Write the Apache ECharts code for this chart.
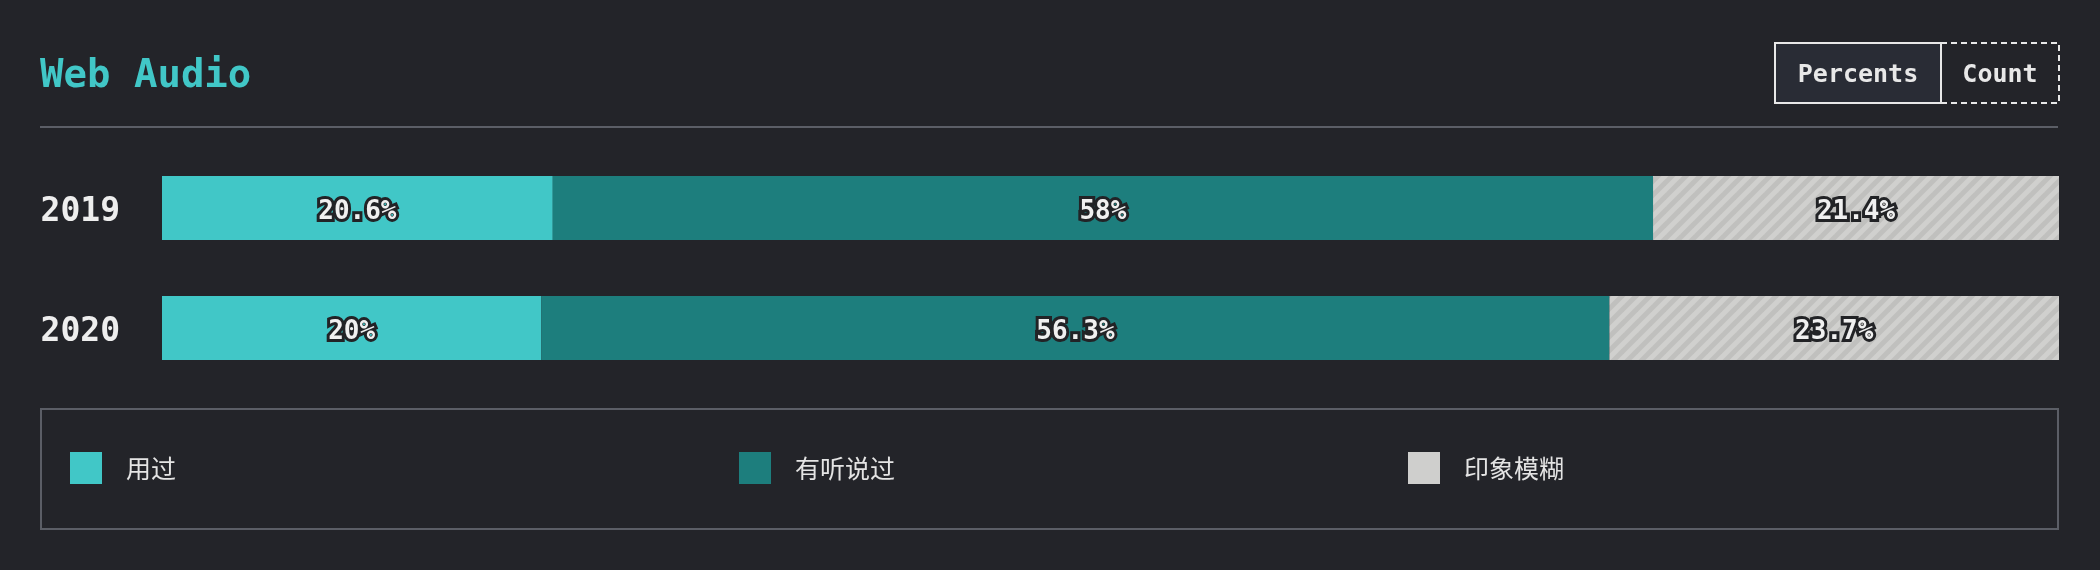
<!DOCTYPE html>
<html>
<head>
<meta charset="utf-8">
<title>Web Audio</title>
<script src="https://cdn.jsdelivr.net/npm/echarts@6/dist/echarts.min.js"></script>
<style>
	html, body { margin: 0; padding: 0; background: #232429; }
	#main { width: 2100px; height: 570px; }
</style>
</head>
<body>
<div id="main"></div>
<script>
// 数据
const years = ['2019', '2020'];
const seriesNames = ['用过', '有听说过', '印象模糊'];
const usedData = [20.6, 20];
const heardData = [58, 56.3];
const fuzzyData = [21.4, 23.7];

const monoFont = '"DejaVu Sans Mono", monospace';
const cjkFont = '"Noto Sans CJK SC", sans-serif';

// 斜条纹填充
function stripePattern(){
	let size = 14;
	let cvs = document.createElement('canvas');
	cvs.width = size;
	cvs.height = size;
	let ctx = cvs.getContext('2d');
	ctx.fillStyle = '#d0d0ce';
	ctx.fillRect(0, 0, size, size);
	ctx.strokeStyle = '#c0c0be';
	ctx.lineWidth = 5;
	for(let c = 0; c <= size * 2; c += size){
		ctx.beginPath();
		ctx.moveTo(-2, c + 2);
		ctx.lineTo(c + 2, -2);
		ctx.stroke();
	}
	return cvs;
}

let labelStyle = {
	show: true,
	position: 'inside',
	offset: [0, 4],
	formatter: function(p){ return p.value + '%'; },
	fontFamily: monoFont,
	fontWeight: 'bold',
	fontSize: 26,
	color: '#f0f0f0',
	textBorderColor: '#222326',
	textBorderWidth: 6
};

function makeLegend(name, left, color){
	return {
		left: left,
		top: 452,
		padding: 0,
		itemWidth: 32,
		itemHeight: 32,
		icon: 'rect',
		selectedMode: false,
		data: [{name: name, itemStyle: {color: color}}],
		textStyle: {
			fontFamily: cjkFont,
			fontSize: 25,
			color: '#e4e4e4',
			padding: [0, 0, 0, 19]
		}
	};
}

let myChart = echarts.init(document.getElementById('main'));
let option = {
	backgroundColor: '#232429',
	animation: false,
	grid: {left: 162, right: 41, top: 148, bottom: 182},
	xAxis: {type: 'value', min: 0, max: 100, show: false},
	yAxis: {
		type: 'category',
		data: years,
		inverse: true,
		axisLine: {show: false},
		axisTick: {show: false},
		axisLabel: {
			margin: 42,
			verticalAlign: 'top',
			lineHeight: 8,
			fontFamily: monoFont,
			fontWeight: 'bold',
			fontSize: 33,
			color: '#eeeeee'
		}
	},
	legend: [
		makeLegend(seriesNames[0], 70, '#41c7c7'),
		makeLegend(seriesNames[1], 739, '#1d7e7d'),
		makeLegend(seriesNames[2], 1408, '#cfcfcd')
	],
	graphic: [
		{type: 'text', left: 40, top: 57, style: {text: 'Web Audio', fontFamily: monoFont, fontWeight: 'bold', fontSize: 39, fill: '#41c7c7'}},
		{type: 'line', shape: {x1: 40, y1: 127, x2: 2058, y2: 127}, style: {stroke: '#5b5e66', lineWidth: 2}},
		{type: 'rect', shape: {x: 1775, y: 43, width: 166, height: 60}, style: {fill: '#292c35', stroke: '#e8e8e8', lineWidth: 2}},
		{type: 'rect', shape: {x: 1941, y: 43, width: 118, height: 60}, style: {fill: 'none', stroke: '#e8e8e8', lineWidth: 2, lineDash: [6, 4]}},
		{type: 'line', shape: {x1: 1941, y1: 43, x2: 1941, y2: 103}, style: {stroke: '#e8e8e8', lineWidth: 2}},
		{type: 'text', x: 1858, y: 75, style: {text: 'Percents', align: 'center', verticalAlign: 'middle', fontFamily: monoFont, fontWeight: 'bold', fontSize: 25, fill: '#e8e8e8'}},
		{type: 'text', x: 2000, y: 75, style: {text: 'Count', align: 'center', verticalAlign: 'middle', fontFamily: monoFont, fontWeight: 'bold', fontSize: 25, fill: '#e8e8e8'}},
		{type: 'rect', shape: {x: 41, y: 409, width: 2017, height: 120}, style: {fill: 'none', stroke: '#5b5e66', lineWidth: 2}}
	],
	series: [
		{name: seriesNames[0], type: 'bar', stack: 'total', barWidth: 64, data: usedData, itemStyle: {color: '#41c7c7'}, label: labelStyle},
		{name: seriesNames[1], type: 'bar', stack: 'total', barWidth: 64, data: heardData, itemStyle: {color: '#1d7e7d'}, label: labelStyle},
		{name: seriesNames[2], type: 'bar', stack: 'total', barWidth: 64, data: fuzzyData, itemStyle: {color: {image: stripePattern(), repeat: 'repeat'}}, label: labelStyle}
	]
};
myChart.setOption(option);
</script>
</body>
</html>
